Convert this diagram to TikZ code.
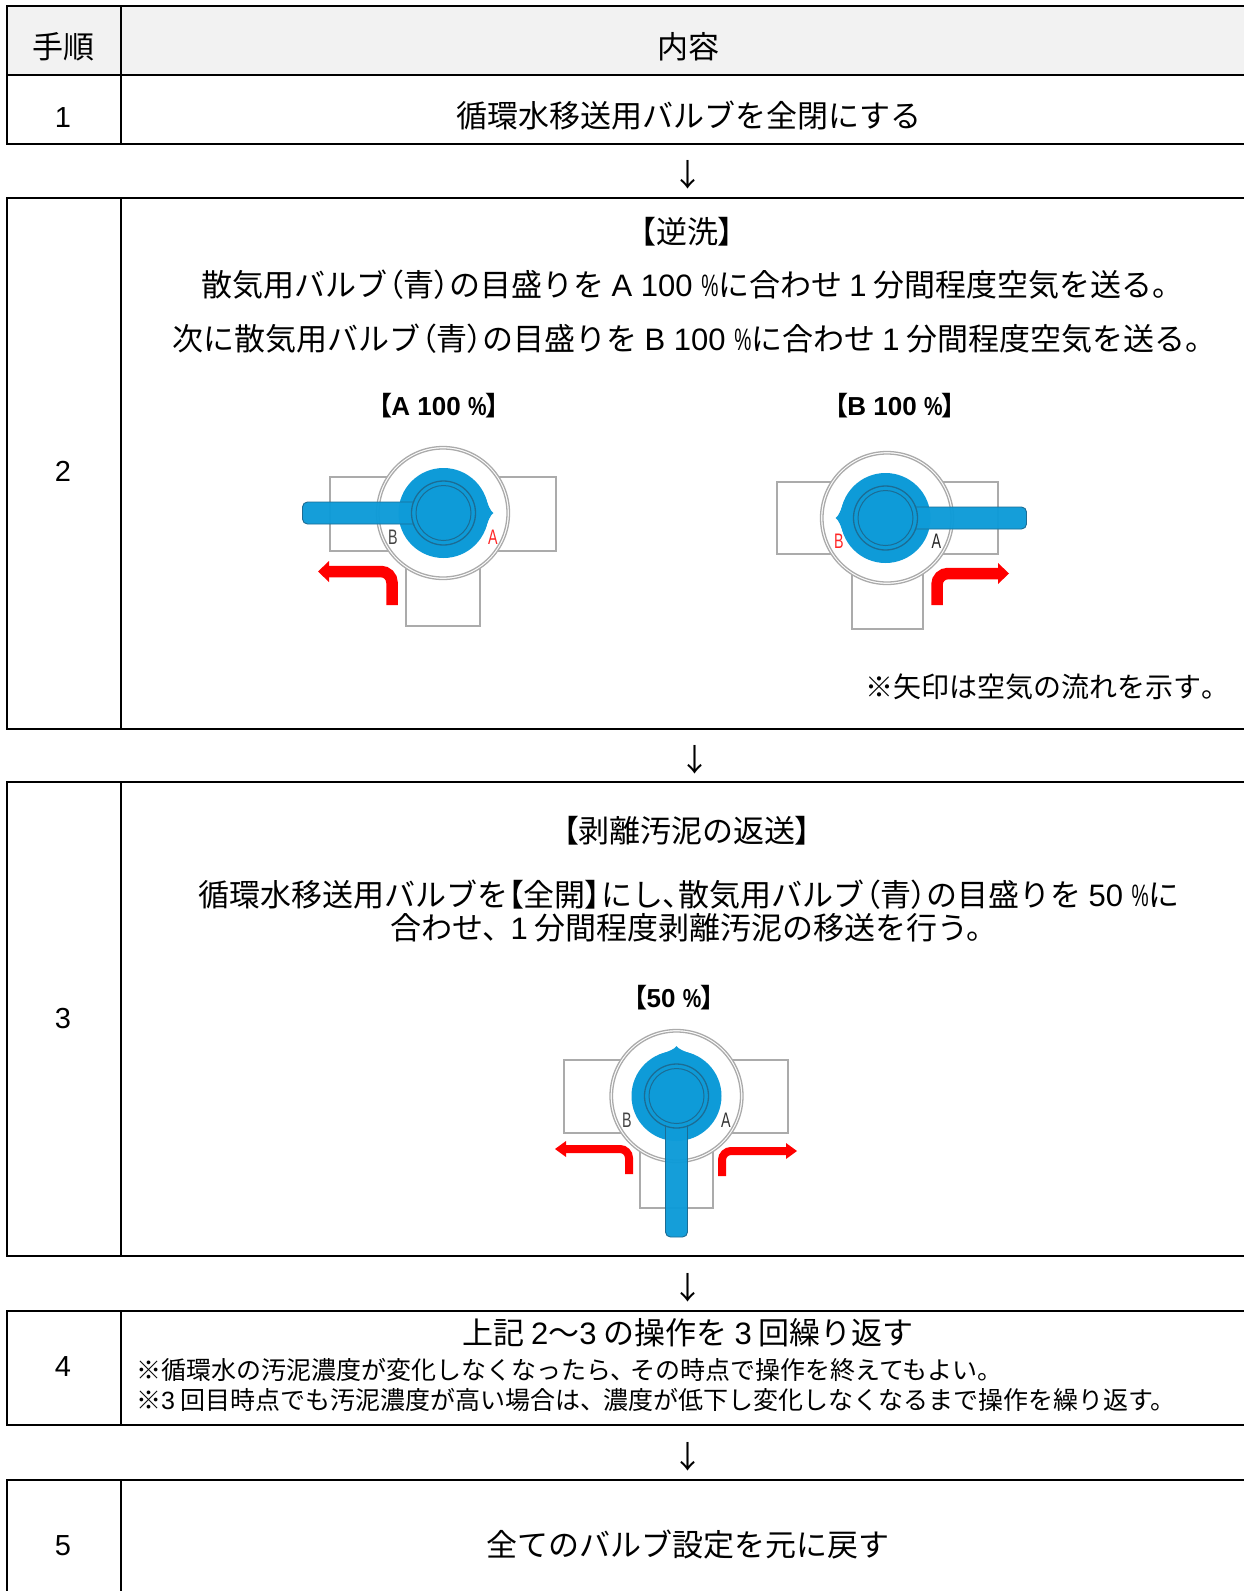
\documentclass[tikz,border=0pt]{standalone}
\usepackage{fontspec}
\usepackage{graphicx}
\setmainfont{Liberation Sans}
\newfontfamily\jp{Noto Sans CJK JP}
\newfontfamily\jpp{Noto Sans CJK JP}[RawFeature=+palt]
\newfontfamily\la{Liberation Sans}
\newcommand{\fs}[1]{\fontsize{#1}{#1}\selectfont}
\newcommand{\lat}[1]{{\la #1}}
\newcommand{\pp}[1]{{\jpp #1}}
\newcommand{\pct}{\scalebox{.62}[1]{\la\%}}
\newcommand{\pctb}{\scalebox{.8}[1]{\la\bfseries\%}}
\definecolor{knobblue}{HTML}{0E9BD8}
\definecolor{knobdark}{HTML}{1C6C94}
\definecolor{pipegray}{HTML}{ABABAB}
\definecolor{headgray}{HTML}{F2F2F2}
\tikzset{
  tline/.style={line width=2pt,black},
  txt/.style={inner sep=0pt,outer sep=0pt,text=black,font=\jp\fs{31}},
  small/.style={txt,font=\jp\fs{28}},
  lab/.style={inner sep=0pt,font=\la\fs{21}},
  pipe/.style={draw=pipegray,line width=1.1pt,fill=white},
  flow/.style={draw=red,line width=#1,rounded corners=11pt},
}
% pipes: lx ty rx by bx1 bx2 bot cx cy
\newcommand{\pipes}[9]{
  \path[pipe] (#1,#2) rectangle (#3,#4);
  \path[pipe] (#5,#4) rectangle (#6,#7);
  \draw[pipegray,line width=1.3pt,fill=white] (#8,#9) circle (66.5);
  \draw[pipegray,line width=1.3pt] (#8,#9) circle (64);
}
% knob: cx cy rot
\newcommand{\knob}[3]{
  \begin{scope}[shift={(#1,#2)},rotate=#3]
    \fill[knobblue] (0,0) circle (45);
    \fill[knobblue] (50,0) .. controls (47,-1.5) and (45,-7) .. (41,-18) -- (41,18) .. controls (45,7) and (47,1.5) .. (50,0);
    \draw[knobdark,line width=.9pt,fill=knobblue,fill opacity=.97,rounded corners=5pt] (-29,-11) -- (-141,-11) -- (-141,11) -- (-29,11);
    \fill[knobblue] (0,0) circle (31);
    \draw[knobdark,line width=1.3pt] (0,0) circle (32);
    \draw[knobdark,line width=1pt] (0,0) circle (27.5);
  \end{scope}
}
\begin{document}
\begin{tikzpicture}[x=1pt,y=-1pt]
\useasboundingbox (0,0) rectangle (1244,1591);
\fill[white] (0,0) rectangle (1244,1591);
\fill[headgray] (7,6) rectangle (1244,75);
% table lines
\draw[tline] (1244,6) -- (7,6) -- (7,144) -- (1244,144);
\draw[tline] (7,75) -- (1244,75);
\draw[tline] (121,6) -- (121,144);
\draw[tline] (1244,198) -- (7,198) -- (7,729) -- (1244,729);
\draw[tline] (121,198) -- (121,729);
\draw[tline] (1244,782) -- (7,782) -- (7,1256) -- (1244,1256);
\draw[tline] (121,782) -- (121,1256);
\draw[tline] (1244,1311) -- (7,1311) -- (7,1425) -- (1244,1425);
\draw[tline] (121,1311) -- (121,1425);
\draw[tline] (1244,1479.5) -- (7,1479.5) -- (7,1591);
\draw[tline] (121,1479.5) -- (121,1591);
% header & simple cells
\node[txt] (h1) at (63,47) {手順};
\node[txt] (h2) at (688,47) {内容};
\node[txt,font=\la\fs{29}] (n1) at (63,118) {1};
\node[txt] (t1) at (689,116) {循環水移送用バルブを全閉にする};
\node[txt] (a1) at (688,175) {↓};
% row 2
\node[txt,font=\la\fs{29}] (n2) at (63,471) {2};
\node[txt] (t2a) at (687,232) {\pp{【}逆洗\pp{】}};
\node[txt] (t2b) at (692.6,285) {散気用バルブ\pp{（}青\pp{）}の目盛りを \lat{A 100 \pct}に合わせ \lat{1} 分間程度空気を送る。};
\node[txt] (t2c) at (694.6,339) {次に散気用バルブ\pp{（}青\pp{）}の目盛りを \lat{B 100 \pct}に合わせ \lat{1} 分間程度空気を送る。};
\node[txt,font=\jp\bfseries\fs{26}] (l1) at (439,406) {\pp{【}\lat{\bfseries A 100 \pctb}\pp{】}};
\node[txt,font=\jp\bfseries\fs{26}] (l2) at (895,406) {\pp{【}\lat{\bfseries B 100 \pctb}\pp{】}};
\node[small,anchor=east] (t2d) at (1215,687) {※矢印は空気の流れを示す\pp{。}};
% valve A 100
\pipes{330}{477}{556}{551}{406}{480}{626}{443}{513}
\knob{443.5}{513}{0}
\node[lab,text=pipegray!40!black] (vb1) at (393,537) {\scalebox{.68}[1]{B}};
\node[lab,text=red!85!white] (va1) at (493,537) {\scalebox{.68}[1]{A}};
\draw[flow=11.5pt] (392,605) |- (328,571.5);
\fill[red] (329,561) -- (318,571.5) -- (329,582) -- cycle;
% valve B 100
\pipes{777}{482}{998}{554}{852}{923}{629}{887}{518}
\knob{885.5}{518}{180}
\node[lab,text=red!85!white] (vb2) at (839,541) {\scalebox{.68}[1]{B}};
\node[lab,text=black!85] (va2) at (936.5,541) {\scalebox{.68}[1]{A}};
\draw[flow=11.5pt] (937,605) |- (999,573.5);
\fill[red] (998,563) -- (1009,573.5) -- (998,584) -- cycle;
% row 3
\node[txt] (a2) at (695,760) {↓};
\node[txt,font=\la\fs{29}] (n3) at (63,1019) {3};
\node[txt] (t3a) at (687,831) {\pp{【}剥離汚泥の返送\pp{】}};
\node[txt] (t3b) at (689,895) {循環水移送用バルブを\pp{【}全開\pp{】}にし\pp{、}散気用バルブ\pp{（}青\pp{）}の目盛りを \lat{50 \pct}に};
\node[txt] (t3c) at (694,928) {合わせ\pp{、}\hspace{12pt}\lat{1} 分間程度剥離汚泥の移送を行う。};
\node[txt,font=\jp\bfseries\fs{26}] (l3) at (674,998) {\pp{【}\lat{\bfseries 50 \pctb}\pp{】}};
\pipes{564}{1060}{788}{1133}{640}{713}{1208}{676.5}{1096}
\draw[flow=8pt,rounded corners=9pt] (629,1174) |- (565,1149);
\fill[red] (566,1141) -- (555,1149) -- (566,1157) -- cycle;
\draw[flow=8pt,rounded corners=9pt] (722,1176) |- (787,1151);
\fill[red] (786,1143) -- (797,1151) -- (786,1159) -- cycle;
\knob{676.5}{1096}{90}
\node[lab,text=pipegray!40!black] (vb3) at (627,1120) {\scalebox{.68}[1]{B}};
\node[lab,text=black!80] (va3) at (726,1120) {\scalebox{.68}[1]{A}};
% row 4
\node[txt] (a3) at (688,1288) {↓};
\node[txt,font=\la\fs{29}] (n4) at (63,1367) {4};
\node[txt] (t4a) at (688,1333) {上記 \lat{2}〜\lat{3} の操作を \lat{3} 回繰り返す};
\node[txt,font=\jp\fs{25},anchor=west] (t4b) at (136,1370) {※循環水の汚泥濃度が変化しなくなったら\pp{、}\hspace{7pt}その時点で操作を終えてもよい。};
\node[txt,font=\jp\fs{25},anchor=west] (t4c) at (136,1400) {※\lat{3} 回目時点でも汚泥濃度が高い場合は\pp{、}\hspace{10pt}濃度が低下し変化しなくなるまで操作を繰り返す。};
% row 5
\node[txt] (a4) at (688,1457) {↓};
\node[txt,font=\la\fs{29}] (n5) at (63,1546) {5};
\node[txt] (t5) at (688,1545) {全てのバルブ設定を元に戻す};
\end{tikzpicture}
\end{document}
